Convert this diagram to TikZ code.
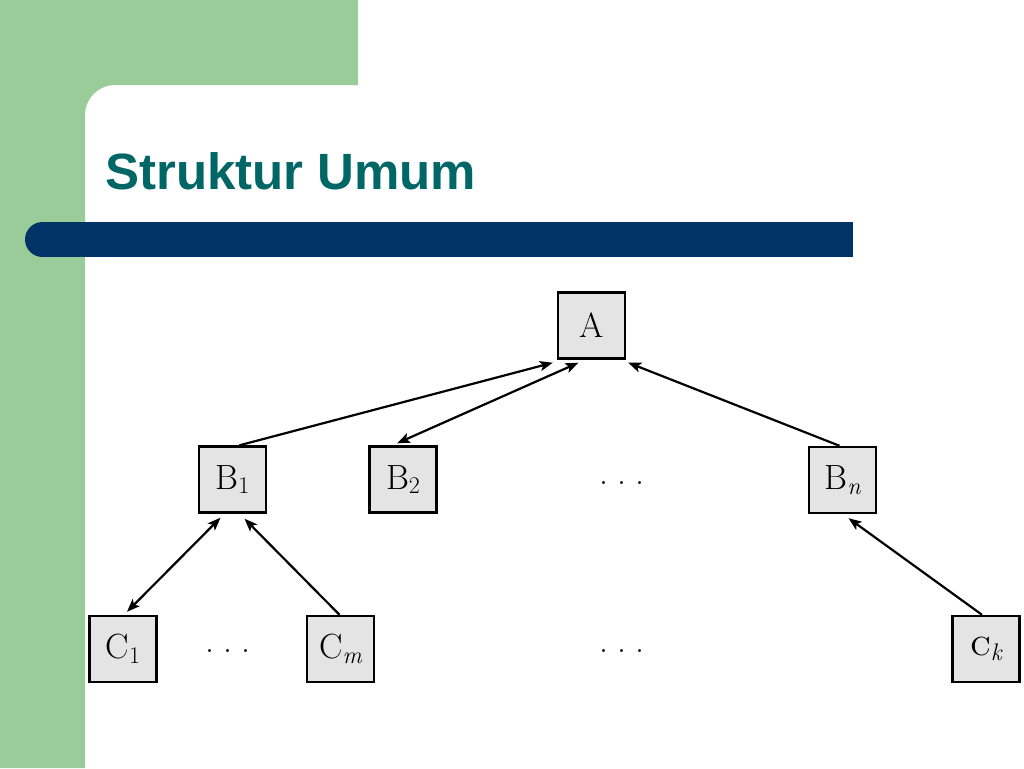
\documentclass[tikz,border=0pt]{standalone}
\usepackage{fontspec}
\newfontfamily\titlefont{Liberation Sans}
\usetikzlibrary{arrows.meta}
\definecolor{slidegreen}{RGB}{153,204,153}
\definecolor{barblue}{RGB}{0,51,102}
\definecolor{titleteal}{RGB}{0,102,102}
\definecolor{boxgray}{RGB}{228,228,228}
\newcommand\sublab[2]{#1\raisebox{-0.3ex}{\fontsize{24}{24}\selectfont #2}}
\newcommand\threedots{.\kern0.24em.\kern0.24em.}
\tikzset{
  box/.style={draw=black, fill=boxgray, line width=2.4pt, minimum width=67pt, minimum height=66pt, inner sep=0pt, font=\fontsize{35}{40}\selectfont},
  dotsnode/.style={inner sep=0pt, font=\fontsize{36}{40}\selectfont},
  conn/.style={line width=2.2pt, black},
  tip/.tip={Stealth[length=13pt,width=10pt,inset=3pt]}
}
\begin{document}
\begin{tikzpicture}[x=1pt,y=-1pt]
\useasboundingbox (0,0) rectangle (1024,768);
\fill[white] (0,0) rectangle (1024,768);
% green frame with rounded inner corner
\fill[slidegreen] (0,0) -- (358,0) -- (358,85) -- (115,85)
  .. controls (98.4,85) and (85,98.4) .. (85,115) -- (85,768) -- (0,768) -- cycle;
% blue bar
\fill[barblue] (42.5,222) rectangle (853,257);
\fill[barblue] (42.5,239.5) circle[radius=17.5];
% title
\node[anchor=base west, inner sep=0pt, text=titleteal, font=\titlefont\bfseries\fontsize{51}{58}\selectfont] (title) at (105,189) {Struktur Umum};
% nodes
\node[box] (A)  at (591.5,325.5) {A};
\node[box] (B1) at (232.5,479.5) {\sublab{B}{1}};
\node[box] (B2) at (403,479.5) {\sublab{B}{2}};
\node[box] (Bn) at (842.5,480) {\sublab{B}{\itshape n}};
\node[box] (C1) at (123,649) {\sublab{C}{1}};
\node[box] (Cm) at (340.5,649) {\sublab{C}{\itshape m}};
\node[box] (Ck) at (986,649) {\sublab{\textsc{c}}{\itshape k}};
\node[dotsnode, anchor=base] (d1) at (622,484) {\threedots};
\node[dotsnode, anchor=base] (d2) at (228,652) {\threedots};
\node[dotsnode, anchor=base] (d3) at (622,652) {\threedots};
% connectors
\draw[conn,-tip] ([xshift=7pt]B1.north) -- ([xshift=-4pt,yshift=-3pt]A.south west);
\draw[conn,tip-tip] ([xshift=-13pt,yshift=-3pt]A.south) -- ([xshift=-6pt,yshift=2pt]B2.north);
\draw[conn,-tip] ([xshift=-3pt]Bn.north) -- ([xshift=2pt,yshift=-3pt]A.south east);
\draw[conn,tip-tip] ([xshift=-12pt,yshift=-4pt]B1.south) -- ([xshift=4pt,yshift=3pt]C1.north);
\draw[conn,-tip] ([xshift=-1pt]Cm.north) -- ([xshift=12pt,yshift=-5pt]B1.south);
\draw[conn,-tip] ([xshift=-4pt]Ck.north) -- ([xshift=6pt,yshift=-4pt]Bn.south);
\end{tikzpicture}
\end{document}
